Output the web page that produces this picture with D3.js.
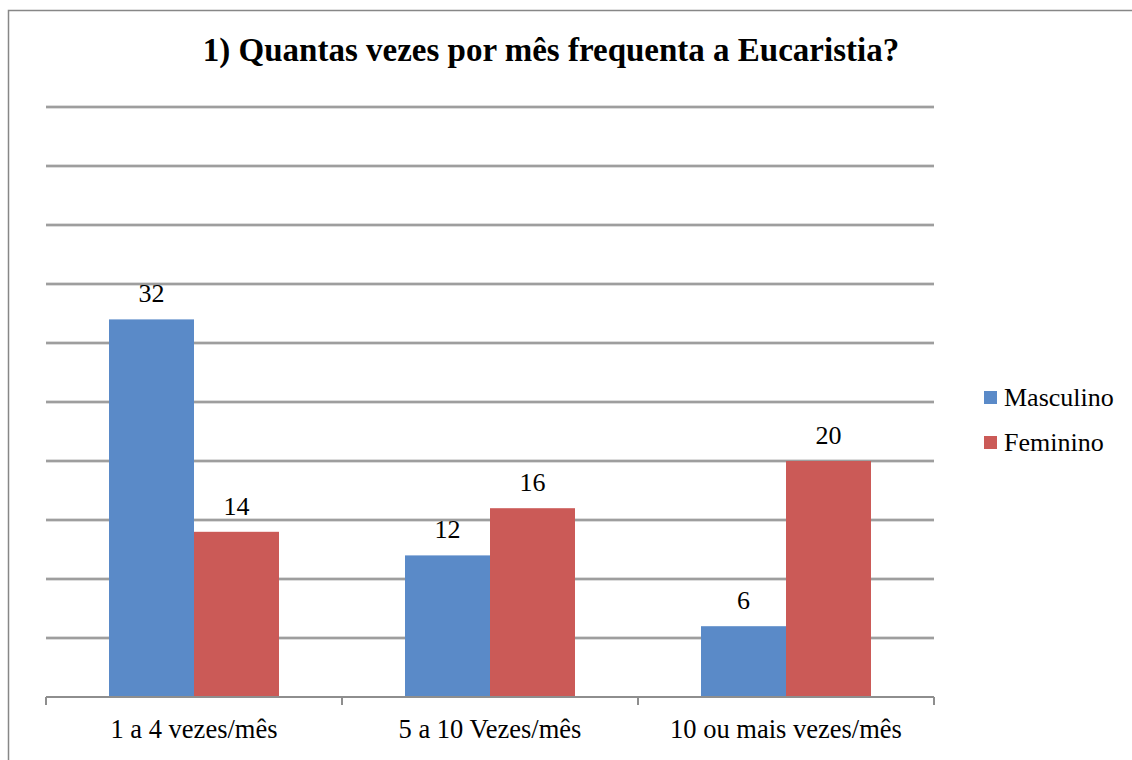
<!DOCTYPE html>
<html><head><meta charset="utf-8"><script src="https://cdn.jsdelivr.net/npm/d3@7"></script></head>
<body style="margin:0">
<script>
const title = "1) Quantas vezes por mês frequenta a Eucaristia?";
const categories = ["1 a 4 vezes/mês", "5 a 10 Vezes/mês", "10 ou mais vezes/mês"];
const seriesNames = ["Masculino", "Feminino"];
const masculino = [32, 12, 6];
const feminino = [14, 16, 20];
const yTicks = [0, 5, 10, 15, 20, 25, 30, 35, 40, 45, 50];
const colors = ["#5A8AC8", "#CB5A57"];

const W = 1132, H = 760;
const svg = d3.select("body").append("svg").attr("width", W).attr("height", H)
  .style("display", "block");

// outer chart border
svg.append("rect")
  .attr("x", 8.5).attr("y", 10.5).attr("width", W + 10).attr("height", H + 10)
  .attr("fill", "none").attr("stroke", "#878787").attr("stroke-width", 1.5);

const pLeft = 46, pRight = 934, pTop = 107, pBottom = 697;

const x0 = d3.scaleBand().domain(categories).range([pLeft, pRight]).padding(0);
const x1 = d3.scaleBand().domain(seriesNames).range([0, 170]).padding(0);
const y = d3.scaleLinear().domain([0, 50]).range([pBottom, pTop]);

// gridlines
const grid = svg.append("g");
grid.selectAll("line.g").data(yTicks.slice(1)).enter().append("line").attr("class", "g")
  .attr("x1", pLeft).attr("x2", pRight)
  .attr("y1", d => y(d)).attr("y2", d => y(d))
  .attr("stroke", "#d0d0d0").attr("stroke-width", 3.5);
grid.selectAll("line.h").data(yTicks.slice(1)).enter().append("line").attr("class", "h")
  .attr("x1", pLeft).attr("x2", pRight)
  .attr("y1", d => y(d)).attr("y2", d => y(d))
  .attr("stroke", "#8e8e8e").attr("stroke-width", 1.5);

function txt(sel) {
  return sel.style("font-family", "'Liberation Serif'");
}

// title
txt(svg.append("text"))
  .attr("x", 551).attr("y", 61)
  .attr("text-anchor", "middle")
  .attr("font-size", 33).attr("font-weight", "bold")
  .text(title);

// bars
const data = categories.map((c, i) => ({ cat: c, vals: [masculino[i], feminino[i]] }));
const groups = svg.append("g").selectAll("g").data(data).enter().append("g")
  .attr("transform", d => `translate(${x0(d.cat) + x0.bandwidth() / 2 - 85},0)`);

groups.selectAll("rect").data(d => d.vals.map((v, j) => ({ s: seriesNames[j], v, j }))).enter()
  .append("rect")
  .attr("x", d => x1(d.s))
  .attr("y", d => y(d.v))
  .attr("width", x1.bandwidth())
  .attr("height", d => pBottom - y(d.v))
  .attr("fill", d => colors[d.j]);

txt(groups.selectAll("text").data(d => d.vals.map((v, j) => ({ s: seriesNames[j], v, j }))).enter()
  .append("text"))
  .attr("x", d => x1(d.s) + x1.bandwidth() / 2)
  .attr("y", d => y(d.v) - 17)
  .attr("text-anchor", "middle")
  .attr("font-size", 26)
  .text(d => d.v);

// x axis labels
txt(svg.append("g").selectAll("text").data(categories).enter().append("text"))
  .attr("x", d => x0(d) + x0.bandwidth() / 2)
  .attr("y", pBottom + 41)
  .attr("text-anchor", "middle")
  .attr("font-size", 26.5)
  .text(d => d);

svg.append("line")
  .attr("x1", pLeft).attr("x2", pRight).attr("y1", pBottom).attr("y2", pBottom)
  .attr("stroke", "#8e8e8e").attr("stroke-width", 2);
const tickXs = [pLeft].concat(categories.map(c => x0(c) + x0.bandwidth()));
svg.append("g").selectAll("line").data(tickXs).enter().append("line")
  .attr("x1", d => d).attr("x2", d => d)
  .attr("y1", pBottom).attr("y2", pBottom + 8)
  .attr("stroke", "#8e8e8e").attr("stroke-width", 2);

// legend
const legend = svg.append("g").selectAll("g").data(seriesNames).enter().append("g")
  .attr("transform", (d, i) => `translate(984,${391 + i * 45})`);
legend.append("rect")
  .attr("x", 0).attr("y", 0).attr("width", 13).attr("height", 13)
  .attr("fill", (d, i) => colors[i]);
txt(legend.append("text"))
  .attr("x", 20).attr("y", 14.5)
  .attr("font-size", 26)
  .text(d => d);
</script>
</body>
</html>
